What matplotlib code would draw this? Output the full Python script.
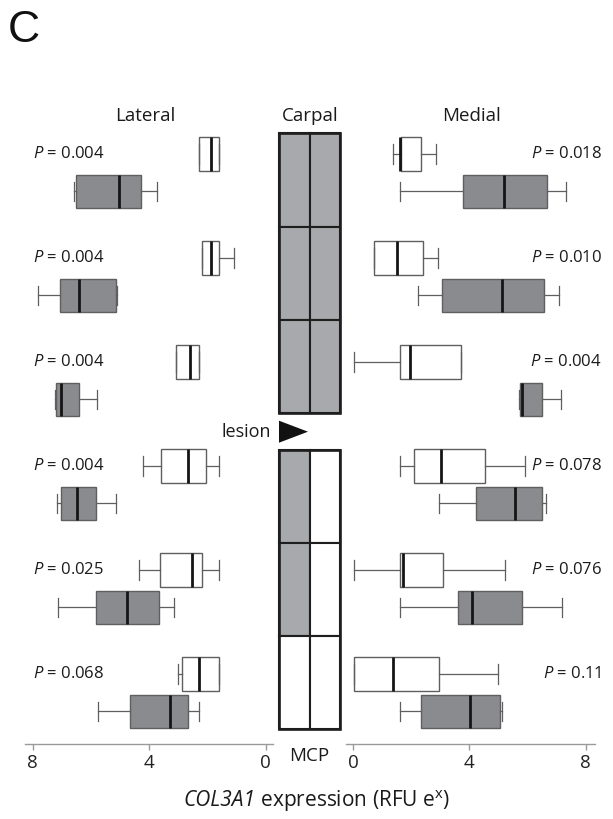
import matplotlib
matplotlib.use("Agg")
import matplotlib.pyplot as plt
from matplotlib.patches import Rectangle, Polygon
import numpy as np

plt.rcParams['font.family'] = ['Open Sans', 'DejaVu Sans']
plt.rcParams['mathtext.fontset'] = 'custom'
plt.rcParams['mathtext.rm'] = 'Open Sans'
plt.rcParams['mathtext.it'] = 'Open Sans:italic'

# ---- data: COL3A1 expression (RFU e^x), six sites from carpal (top) to MCP (bottom)
# each box: whisker low, Q1, median, Q3, whisker high
lat_white_lo = [1.59, 1.08, 2.28, 1.59, 1.59, 1.59]
lat_white_q1 = [1.59, 1.59, 2.28, 2.06, 2.19, 1.59]
lat_white_med = [1.89, 1.88, 2.59, 2.68, 2.52, 2.29]
lat_white_q3 = [2.29, 2.19, 3.07, 3.60, 3.62, 2.89]
lat_white_hi = [2.29, 2.19, 3.07, 4.23, 4.34, 3.02]

lat_grey_lo = [3.75, 5.12, 5.81, 5.14, 3.14, 2.29]
lat_grey_q1 = [4.29, 5.14, 6.43, 5.82, 3.66, 2.66]
lat_grey_med = [5.04, 6.42, 7.04, 6.49, 4.78, 3.28]
lat_grey_q3 = [6.51, 7.06, 7.20, 7.02, 5.83, 4.66]
lat_grey_hi = [6.59, 7.81, 7.24, 7.17, 7.14, 5.77]

med_white_lo = [1.38, 0.70, 0.01, 1.62, 0.01, 0.01]
med_white_q1 = [1.63, 0.70, 1.62, 2.09, 1.62, 0.01]
med_white_med = [1.62, 1.51, 1.96, 3.01, 1.70, 1.36]
med_white_q3 = [2.32, 2.41, 3.72, 4.52, 3.10, 2.96]
med_white_hi = [2.85, 2.91, 3.72, 5.92, 5.21, 4.99]

med_grey_lo = [1.62, 2.22, 5.70, 2.96, 1.62, 1.62]
med_grey_q1 = [3.79, 3.05, 5.74, 4.22, 3.59, 2.33]
med_grey_med = [5.20, 5.11, 5.80, 5.57, 4.10, 4.02]
med_grey_q3 = [6.66, 6.55, 6.49, 6.51, 5.80, 5.05]
med_grey_hi = [7.33, 7.09, 7.14, 6.63, 7.18, 5.12]

lat_p = ["0.004", "0.004", "0.004", "0.004", "0.025", "0.068"]
med_p = ["0.018", "0.010", "0.004", "0.078", "0.076", "0.11"]

# lesion map of the joint segments: 1 = lesioned (shaded), columns lateral/medial
lesion_map = [[1, 1], [1, 1], [1, 1], [1, 0], [1, 0], [0, 0]]

tick_vals = [0, 4, 8]

# ---- figure layout (pixel based)
W, H = 613, 819
fig = plt.figure(figsize=(W / 100, H / 100), dpi=100)


def px_rect(x0, y0, x1, y1):
    return [x0 / W, 1 - y1 / H, (x1 - x0) / W, (y1 - y0) / H]


GREY_BOX = '#8a8b8e'
GREY_CELL = '#a7a9ac'
EDGE = '#5f5f5f'
AX_GREY = '#9a9a9a'
TXT = '#1a1a1a'

n = len(lat_p)
rows = np.arange(n)
off = 0.18
box_w = 0.32


def stats(lo, q1, med, q3, hi):
    return [dict(whislo=a, q1=b, med=c, q3=d, whishi=e, fliers=[])
            for a, b, c, d, e in zip(lo, q1, med, q3, hi)]


def draw_panel(ax, white, grey, xlim):
    for st, pos, fc in ((white, rows - off, 'white'), (grey, rows + off, GREY_BOX)):
        ax.bxp(st, positions=pos, widths=box_w, capwidths=0.19,
               orientation='horizontal', patch_artist=True, showfliers=False,
               boxprops=dict(facecolor=fc, edgecolor=EDGE, linewidth=1.0),
               medianprops=dict(color='#151515', linewidth=2.0),
               whiskerprops=dict(color=EDGE, linewidth=0.9),
               capprops=dict(color=EDGE, linewidth=0.9),
               manage_ticks=False)
    ax.set_xlim(*xlim)
    ax.set_ylim(5.493, -0.507)
    for s in ('top', 'left', 'right'):
        ax.spines[s].set_visible(False)
    ax.spines['bottom'].set_color(AX_GREY)
    ax.spines['bottom'].set_linewidth(1.0)
    ax.set_yticks([])
    ax.set_xticks(tick_vals)
    ax.set_xticklabels([str(v) for v in tick_vals])
    ax.tick_params(axis='x', colors=AX_GREY, length=4, width=1.0,
                   labelcolor='#222222', labelsize=13.5, pad=3)
    ax.patch.set_alpha(0)


# lateral panel (reversed axis)
axL = fig.add_axes(px_rect(25, 120, 273, 744))
draw_panel(axL,
           stats(lat_white_lo, lat_white_q1, lat_white_med, lat_white_q3, lat_white_hi),
           stats(lat_grey_lo, lat_grey_q1, lat_grey_med, lat_grey_q3, lat_grey_hi),
           (8.27, -0.25))
for i, p in enumerate(lat_p):
    axL.text(8.0, rows[i] - off, f"$\\mathit{{P}}$ = {p}", ha='left', va='center',
             fontsize=12, color=TXT)

# medial panel
axR = fig.add_axes(px_rect(346, 120, 595, 744))
draw_panel(axR,
           stats(med_white_lo, med_white_q1, med_white_med, med_white_q3, med_white_hi),
           stats(med_grey_lo, med_grey_q1, med_grey_med, med_grey_q3, med_grey_hi),
           (-0.25, 8.32))
for i, p in enumerate(med_p):
    axR.text(8.56, rows[i] - off, f"$\\mathit{{P}}$ = {p}", ha='right', va='center',
             fontsize=12, color=TXT, clip_on=False)

# panel headers
for xp, label in ((145, "Lateral"), (310, "Carpal"), (472, "Medial")):
    fig.text(xp / W, 1 - 116 / H, label, ha='center', va='center',
             fontsize=13.5, color=TXT)

# centre: joint segment diagram, carpal block above the lesion, MCP block below
axC = fig.add_axes(px_rect(279, 120, 340, 744))
axC.set_xlim(0, 2)
axC.set_ylim(744, 120)
axC.axis('off')
blocks = [(133.3, 413.3), (450.0, 729.0)]
cell_h = [(b[1] - b[0]) / 3 for b in blocks]
for r, states in enumerate(lesion_map):
    b = r // 3
    y0 = blocks[b][0] + (r % 3) * cell_h[b]
    for c, s in enumerate(states):
        axC.add_patch(Rectangle((c, y0), 1, cell_h[b],
                                facecolor=GREY_CELL if s else 'white',
                                edgecolor='#1e1e1e', linewidth=1.5,
                                clip_on=False))
for y0, y1 in blocks:
    axC.add_patch(Rectangle((0, y0), 2, y1 - y0, fill=False,
                            edgecolor='#1e1e1e', linewidth=1.9, clip_on=False))

axC.add_patch(Polygon([[0.0, 420.7], [0.95, 431.7], [0.0, 442.7]], closed=True,
                      facecolor='#111111', edgecolor='none', clip_on=False))
axC.text(-0.26, 431.7, "lesion", ha='right', va='center', fontsize=13,
         color=TXT, clip_on=False)
axC.text(1.0, 756, "MCP", ha='center', va='center', fontsize=13.5,
         color=TXT, clip_on=False)

# x-axis title: italic gene symbol followed by upright text
t1 = fig.text(183 / W, 1 - 801 / H, "COL3A1", ha='left', va='center',
              fontsize=15, style='italic', color=TXT)
fig.add_artist(plt.Annotation(" expression (RFU e$^{\\mathrm{x}}$)", xy=(1.0, 0.5),
                              xycoords=t1, ha='left', va='center', fontsize=15,
                              color=TXT, annotation_clip=False))

fig.text(8 / W, 1 - 31 / H, "C", ha='left', va='center', fontsize=32,
         family=['Liberation Sans', 'DejaVu Sans'], color='#111111')

fig.savefig("out.png", dpi=100)
